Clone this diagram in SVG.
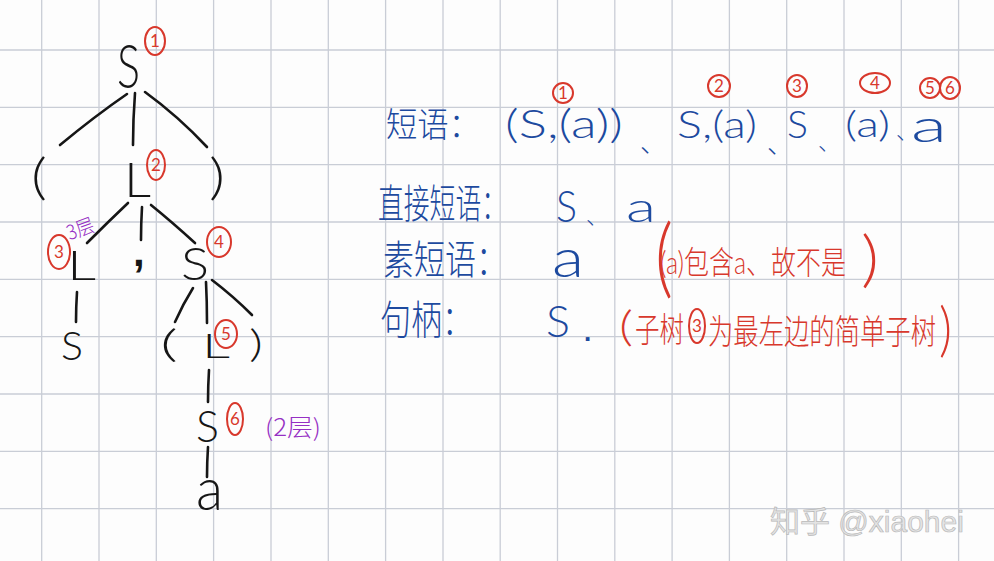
<svg xmlns="http://www.w3.org/2000/svg" width="994" height="561" viewBox="0 0 994 561">
<defs>
<style>
.grid line{stroke:#c9cdd6;stroke-width:1.3}
.k{font-family:Lato,"Liberation Sans",sans-serif;font-weight:300;fill:#161616}
.conn path{stroke:#161616;stroke-width:2.6;fill:none;stroke-linecap:round}
.lat{font-family:Lato,"Liberation Sans",sans-serif;font-weight:300}
.cjk{font-family:"Noto Sans CJK SC","Noto Sans CJK JP",sans-serif;font-weight:300}
.mix{font-family:Lato,"Liberation Sans","Noto Sans CJK SC",sans-serif;font-weight:300}
.b{fill:#1d4a9f}
.r{fill:#d8382c}
.p{fill:#9630c4}
.rc{fill:none;stroke:#d8382c;stroke-width:2}
.num{font-family:Lato,"Liberation Sans",sans-serif;font-weight:400;font-size:17px;fill:#d8382c;text-anchor:middle}
.wm{font-family:"Liberation Sans","Noto Sans CJK SC",sans-serif;font-size:30px;fill:#e4e4e4;stroke:#b9b9b9;stroke-width:0.7}
</style>
</defs>
<rect width="994" height="561" fill="#fdfdfd"/>
<g class="grid">
<line x1="41.7" y1="0" x2="41.7" y2="561"/>
<line x1="99" y1="0" x2="99" y2="561"/>
<line x1="156.3" y1="0" x2="156.3" y2="561"/>
<line x1="213.6" y1="0" x2="213.6" y2="561"/>
<line x1="271" y1="0" x2="271" y2="561"/>
<line x1="328.3" y1="0" x2="328.3" y2="561"/>
<line x1="385.6" y1="0" x2="385.6" y2="561"/>
<line x1="443" y1="0" x2="443" y2="561"/>
<line x1="500.2" y1="0" x2="500.2" y2="561"/>
<line x1="557.5" y1="0" x2="557.5" y2="561"/>
<line x1="614.8" y1="0" x2="614.8" y2="561"/>
<line x1="672.1" y1="0" x2="672.1" y2="561"/>
<line x1="729.4" y1="0" x2="729.4" y2="561"/>
<line x1="786.7" y1="0" x2="786.7" y2="561"/>
<line x1="844" y1="0" x2="844" y2="561"/>
<line x1="901.3" y1="0" x2="901.3" y2="561"/>
<line x1="958.6" y1="0" x2="958.6" y2="561"/>
<line x1="0" y1="50" x2="994" y2="50"/>
<line x1="0" y1="107.3" x2="994" y2="107.3"/>
<line x1="0" y1="164.7" x2="994" y2="164.7"/>
<line x1="0" y1="222" x2="994" y2="222"/>
<line x1="0" y1="279.3" x2="994" y2="279.3"/>
<line x1="0" y1="336.6" x2="994" y2="336.6"/>
<line x1="0" y1="394" x2="994" y2="394"/>
<line x1="0" y1="451.3" x2="994" y2="451.3"/>
<line x1="0" y1="508.6" x2="994" y2="508.6"/>
</g>

<g id="connectors" class="conn">
<path d="M127,94 Q95,116 60,145"/>
<path d="M135,93 Q133,120 133,145"/>
<path d="M145,92 Q178,116 207,147"/>
<path d="M128,203 Q108,222 87,243"/>
<path d="M142,207 Q141,224 141,240"/>
<path d="M151,205 Q172,222 195,243"/>
<path d="M77,292 Q76,307 76,322"/>
<path d="M193,288 Q183,304 175,322"/>
<path d="M206,282 Q207,302 207,323"/>
<path d="M212,280 Q233,296 252,315"/>
<path d="M209,370 Q208,386 208,402"/>
<path d="M208,447 Q207,462 207,477"/>
</g>

<g id="node-S1">
<text class="k" x="117" y="88" font-size="62" textLength="23" lengthAdjust="spacingAndGlyphs">S</text>
<ellipse class="rc" cx="155" cy="41" rx="10" ry="14"/>
<text class="num" x="155" y="47">1</text>
</g>
<g id="node-lparen1"><text class="k" x="31" y="194" font-size="50" textLength="16" lengthAdjust="spacingAndGlyphs">(</text></g>
<g id="node-L2">
<text class="k" x="124" y="197" font-size="48" textLength="27" lengthAdjust="spacingAndGlyphs">L</text>
<ellipse class="rc" cx="156" cy="165" rx="9" ry="15"/>
<text class="num" x="156" y="171">2</text>
</g>
<g id="node-rparen1"><text class="k" x="209" y="194" font-size="50" textLength="16" lengthAdjust="spacingAndGlyphs">)</text></g>
<g id="node-L3">
<text class="k" x="67" y="280" font-size="42" textLength="29" lengthAdjust="spacingAndGlyphs">L</text>
<ellipse class="rc" cx="59" cy="252" rx="11" ry="17"/>
<text class="num" x="59" y="258">3</text>
<text class="cjk p" x="66" y="236" font-size="20" transform="rotate(-20 80 228)" textLength="28" lengthAdjust="spacingAndGlyphs">3层</text>
</g>
<g id="node-comma"><text x="133" y="266" font-family="'Liberation Sans',sans-serif" font-size="42" font-weight="700" fill="#161616">,</text></g>
<g id="node-S4">
<text class="k" x="181" y="280" font-size="46" textLength="28" lengthAdjust="spacingAndGlyphs">S</text>
<ellipse class="rc" cx="219" cy="242" rx="12" ry="15"/>
<text class="num" x="219" y="248">4</text>
</g>
<g id="node-S-leaf"><text class="k" x="61" y="360" font-size="40" textLength="22" lengthAdjust="spacingAndGlyphs">S</text></g>
<g id="node-lparen2"><text class="k" x="160" y="357" font-size="38" textLength="18" lengthAdjust="spacingAndGlyphs">(</text></g>
<g id="node-L5">
<text class="k" x="202" y="358" font-size="34" textLength="28" lengthAdjust="spacingAndGlyphs">L</text>
<ellipse class="rc" cx="226" cy="334" rx="11" ry="14"/>
<text class="num" x="226" y="340">5</text>
</g>
<g id="node-rparen2"><text class="k" x="249" y="357" font-size="38" textLength="14" lengthAdjust="spacingAndGlyphs">)</text></g>
<g id="node-S6">
<text class="k" x="196" y="442" font-size="44" textLength="23" lengthAdjust="spacingAndGlyphs">S</text>
<ellipse class="rc" cx="235" cy="419" rx="8" ry="16"/>
<text class="num" x="235" y="425">6</text>
<text class="cjk p" x="265" y="436" font-size="24" textLength="56" lengthAdjust="spacingAndGlyphs">(2层)</text>
</g>
<g id="node-a"><text class="k" x="196" y="510" font-size="60" textLength="27" lengthAdjust="spacingAndGlyphs">a</text></g>

<g id="phrases">
<text class="cjk b" x="386" y="137" font-size="34" textLength="94" lengthAdjust="spacingAndGlyphs">短语：</text>
<text class="lat b" x="505" y="138" font-size="40" textLength="118" lengthAdjust="spacingAndGlyphs">(S,(a))</text>
<text class="cjk b" x="640" y="152" font-size="26">、</text>
<text class="lat b" x="677" y="138" font-size="38" textLength="80" lengthAdjust="spacingAndGlyphs">S,(a)</text>
<text class="cjk b" x="767" y="153" font-size="26">、</text>
<text class="lat b" x="787" y="138" font-size="38" textLength="21" lengthAdjust="spacingAndGlyphs">S</text>
<text class="cjk b" x="818" y="150" font-size="22">、</text>
<text class="lat b" x="845" y="137" font-size="36" textLength="45" lengthAdjust="spacingAndGlyphs">(a)</text>
<text class="cjk b" x="896" y="139" font-size="22">、</text>
<text class="lat b" x="911" y="142" font-size="46" textLength="36" lengthAdjust="spacingAndGlyphs">a</text>
<ellipse class="rc" cx="563" cy="93" rx="10" ry="10"/>
<text class="num" x="563" y="99">1</text>
<ellipse class="rc" cx="719" cy="86" rx="11" ry="11"/>
<text class="num" x="719" y="92">2</text>
<ellipse class="rc" cx="797" cy="86" rx="10" ry="11"/>
<text class="num" x="797" y="92">3</text>
<ellipse class="rc" cx="875" cy="83" rx="15" ry="10"/>
<text class="num" x="875" y="89">4</text>
<ellipse class="rc" cx="930" cy="88" rx="10" ry="10"/>
<text class="num" x="930" y="94">5</text>
<ellipse class="rc" cx="950" cy="88" rx="10" ry="11"/>
<text class="num" x="950" y="94">6</text>
</g>

<g id="direct-phrases">
<text class="cjk b" x="378" y="218" font-size="40" textLength="129" lengthAdjust="spacingAndGlyphs">直接短语：</text>
<text class="lat b" x="556" y="222" font-size="44" textLength="21" lengthAdjust="spacingAndGlyphs">S</text>
<text class="cjk b" x="586" y="224" font-size="22">、</text>
<text class="lat b" x="626" y="222" font-size="42" textLength="30" lengthAdjust="spacingAndGlyphs">a</text>
</g>

<g id="prime-phrases">
<text class="cjk b" x="383" y="274" font-size="40" textLength="124" lengthAdjust="spacingAndGlyphs">素短语：</text>
<text class="lat b" x="552" y="277" font-size="54" textLength="32" lengthAdjust="spacingAndGlyphs">a</text>
<text class="lat r" x="655" y="287" font-size="86" textLength="18" lengthAdjust="spacingAndGlyphs">(</text>
<text class="mix r" x="660" y="274" font-size="32" textLength="186" lengthAdjust="spacingAndGlyphs">(a)包含a、故不是</text>
<text class="lat r" x="861" y="280" font-size="62" textLength="18" lengthAdjust="spacingAndGlyphs">)</text>
</g>

<g id="handle">
<text class="cjk b" x="380" y="334" font-size="40" textLength="93" lengthAdjust="spacingAndGlyphs">句柄：</text>
<text class="lat b" x="546" y="337" font-size="44" textLength="24" lengthAdjust="spacingAndGlyphs">S</text>
<text x="584" y="341" font-family="'Liberation Sans',sans-serif" font-size="26" font-weight="700" fill="#1d4a9f">.</text>
<text class="lat r" x="619" y="341" font-size="42" textLength="14" lengthAdjust="spacingAndGlyphs">(</text>
<text class="cjk r" x="635" y="342" font-size="34" textLength="49" lengthAdjust="spacingAndGlyphs">子树</text>
<ellipse class="rc" cx="697" cy="326" rx="8" ry="17"/>
<text class="num" x="697" y="332">3</text>
<text class="cjk r" x="708" y="344" font-size="34" textLength="228" lengthAdjust="spacingAndGlyphs">为最左边的简单子树</text>
<text class="lat r" x="939" y="350" font-size="60" textLength="13" lengthAdjust="spacingAndGlyphs">)</text>
</g>

<g id="watermark">
<text class="wm" x="770" y="532">知乎 @xiaohei</text>
</g>
</svg>
